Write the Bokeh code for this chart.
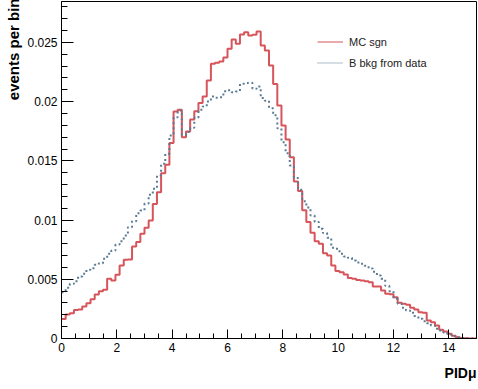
import numpy as np
from bokeh.plotting import figure
from bokeh.models import (Range1d, FixedTicker, CustomJSTickFormatter, Title,
                          Legend, LegendItem)
from bokeh.embed import file_html
from bokeh.resources import INLINE

# ---- data (100 bins of width 0.15 on 0..15) ----
x_min, x_max, n_bins = 0.0, 15.0, 100

mc_sgn = [
    0.00165, 0.00203, 0.00214, 0.00240, 0.00245, 0.00270, 0.00298, 0.00332, 0.00372, 0.00400,
    0.00411, 0.00504, 0.00490, 0.00538, 0.00617, 0.00664, 0.00667, 0.00777, 0.00814, 0.00884,
    0.00935, 0.00997, 0.01135, 0.01235, 0.01395, 0.01467, 0.01650, 0.01917, 0.01931, 0.01700,
    0.01748, 0.01850, 0.01920, 0.01988, 0.02044, 0.02179, 0.02320, 0.02328, 0.02340, 0.02373,
    0.02446, 0.02525, 0.02489, 0.02568, 0.02587, 0.02559, 0.02565, 0.02593, 0.02475, 0.02432,
    0.02306, 0.02150, 0.01968, 0.01799, 0.01681, 0.01531, 0.01326, 0.01245, 0.01084, 0.00983,
    0.00893, 0.00822, 0.00800, 0.00720, 0.00701, 0.00617, 0.00569, 0.00560, 0.00540, 0.00510,
    0.00504, 0.00495, 0.00490, 0.00484, 0.00476, 0.00439, 0.00439, 0.00405, 0.00378, 0.00374,
    0.00349, 0.00301, 0.00293, 0.00285, 0.00259, 0.00245, 0.00222, 0.00217, 0.00152, 0.00138,
    0.00110, 0.00073, 0.00059, 0.00040, 0.00023, 0.00011, 0.00004, 0.00002, 0.00001, 0.00000,
]

b_bkg = [
    0.00391, 0.00428, 0.00462, 0.00484, 0.00524, 0.00546, 0.00580, 0.00594, 0.00622, 0.00636,
    0.00673, 0.00715, 0.00743, 0.00794, 0.00822, 0.00870, 0.00940, 0.00991, 0.01058, 0.01080,
    0.01140, 0.01215, 0.01265, 0.01377, 0.01475, 0.01560, 0.01715, 0.01869, 0.01926, 0.01720,
    0.01743, 0.01780, 0.01864, 0.01931, 0.01960, 0.02002, 0.02044, 0.02033, 0.02038, 0.02088,
    0.02097, 0.02080, 0.02086, 0.02151, 0.02157, 0.02160, 0.02109, 0.02128, 0.02030, 0.02008,
    0.01945, 0.01885, 0.01775, 0.01658, 0.01565, 0.01461, 0.01355, 0.01257, 0.01160, 0.01106,
    0.01039, 0.00983, 0.00926, 0.00890, 0.00850, 0.00766, 0.00757, 0.00715, 0.00693, 0.00681,
    0.00659, 0.00642, 0.00631, 0.00614, 0.00591, 0.00563, 0.00532, 0.00504, 0.00445, 0.00400,
    0.00335, 0.00293, 0.00259, 0.00236, 0.00217, 0.00189, 0.00166, 0.00146, 0.00129, 0.00110,
    0.00082, 0.00068, 0.00051, 0.00034, 0.00020, 0.00010, 0.00005, 0.00002, 0.00001, 0.00000,
]

x_ticks = [0, 2, 4, 6, 8, 10, 12, 14]
y_ticks = [0, 0.005, 0.01, 0.015, 0.02, 0.025]
series_names = ["MC sgn", "B bkg from data"]
x_title = "PIDμ"
y_title = "events per bin"

RED = "#d6545a"
BLUE = "#5b7b94"
FONT = "Liberation Sans"

edges = np.linspace(x_min, x_max, n_bins + 1)


def step_xy(vals):
    return list(edges), list(vals) + [vals[-1]]


p = figure(width=478, height=389,
           x_range=Range1d(x_min, x_max), y_range=Range1d(0, 0.02846),
           output_backend="svg", toolbar_location=None,
           min_border_left=61, min_border_right=2,
           min_border_top=1, min_border_bottom=51)

p.background_fill_color = "white"
p.border_fill_color = "white"
p.outline_line_color = "black"
p.outline_line_width = 1
p.grid.visible = False

xs, ys = step_xy(mc_sgn)
p.step(xs, ys, mode="after", line_color=RED, line_width=2)
xs, ys = step_xy(b_bkg)
p.step(xs, ys, mode="after", line_color=BLUE, line_width=2, line_dash="2 3")

# axes
xa = p.xaxis[0]
xa.ticker = FixedTicker(ticks=x_ticks,
                        minor_ticks=list(np.arange(0, 15.01, 0.5)))
xa.major_tick_in = 9
xa.major_tick_out = 0
xa.minor_tick_in = 5
xa.minor_tick_out = 0
xa.major_label_standoff = 4
xa.major_label_text_font = FONT
xa.major_label_text_font_size = "12px"
xa.major_label_text_color = "black"
xa.axis_line_color = "black"
xa.major_tick_line_color = "black"
xa.minor_tick_line_color = "black"

ya = p.yaxis[0]
ya.ticker = FixedTicker(ticks=y_ticks,
                        minor_ticks=[i * 0.001 for i in range(29)])
ya.formatter = CustomJSTickFormatter(code="return String(parseFloat(tick.toFixed(4)));")
ya.major_tick_in = 12
ya.major_tick_out = 0
ya.minor_tick_in = 6
ya.minor_tick_out = 0
ya.major_label_standoff = 4
ya.major_label_text_font = FONT
ya.major_label_text_font_size = "12px"
ya.major_label_text_color = "black"
ya.axis_line_color = "black"
ya.major_tick_line_color = "black"
ya.minor_tick_line_color = "black"

# axis titles, right-aligned at the top / right end of the frame
p.add_layout(Title(text=y_title, align="right", offset=-3, standoff=5,
                   text_font=FONT, text_font_style="bold",
                   text_font_size="15px", text_color="black"), "left")
p.add_layout(Title(text=x_title, align="right", offset=0, standoff=17,
                   text_font=FONT, text_font_style="bold",
                   text_font_size="14px", text_color="black"), "below")

# legend from sample renderers
r1 = p.line([np.nan], [np.nan], line_color=RED, line_width=1)
r2 = p.line([np.nan], [np.nan], line_color=BLUE, line_width=1, line_dash="1 1")
legend = Legend(items=[LegendItem(label=series_names[0], renderers=[r1]),
                       LegendItem(label=series_names[1], renderers=[r2])],
                location=(256, 265))
legend.border_line_alpha = 0
legend.background_fill_alpha = 0
legend.padding = 0
legend.margin = 0
legend.spacing = 0
legend.glyph_width = 26
legend.glyph_height = 21
legend.label_height = 21
legend.label_standoff = 6
legend.label_text_font = FONT
legend.label_text_font_size = "11px"
legend.label_text_color = "#222222"
p.add_layout(legend)

open("out.html", "w").write(file_html(p, INLINE))
